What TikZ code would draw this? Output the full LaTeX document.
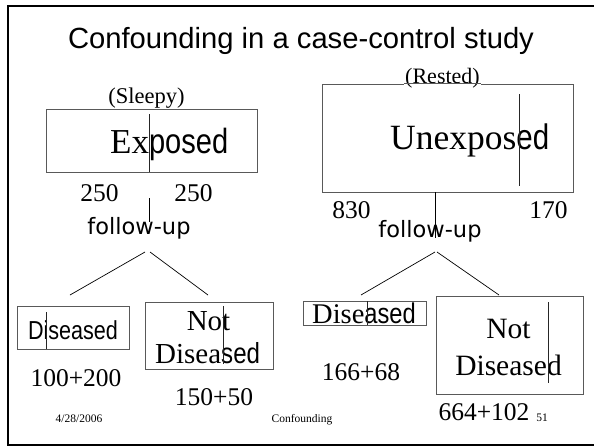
\documentclass[tikz,border=0pt]{standalone}
\usepackage{fontspec}
\setmainfont{Liberation Serif}
\newfontfamily\headfont{Liberation Sans}
\newfontfamily\condfont{Liberation Sans}[FakeStretch=0.83]
\newfontfamily\labelfont{DejaVu Sans}
\newcommand\sz[1]{\fontsize{#1}{#1}\selectfont}

\begin{document}
\begin{tikzpicture}[x=1pt,y=-1pt,
  box/.style={draw=black!65,line width=0.8pt,inner sep=0pt},
  divider/.style={draw=black!85,line width=0.7pt},
  branch/.style={draw=black,line width=0.7pt},
  frame/.style={draw=black,line width=2.6pt},
  txt/.style={inner sep=0pt,anchor=base},
  txtw/.style={inner sep=0pt,anchor=base west}]
\useasboundingbox (0,0) rectangle (594,447);

% slide frame
\draw[frame] (594,6) -- (8,6) -- (8,445) -- (594,445);

% title
\node[txt] (title) at (301,48) {\headfont\sz{29.2}Confounding in a case-control study};

% exposed group
\node[txt] (sleepy) at (146.5,103) {\sz{22.5}(Sleepy)};
\node[box,minimum width=211pt,minimum height=63pt] (expbox) at (151.5,140.5) {};
\node[txtw] (exptxt) at (110,153) {\sz{35}Ex{\condfont posed}};
\draw[divider] (149,114) -- (149,172);
\node[txt] (nA) at (99.5,201) {\sz{25.5}250};
\node[txt] (nB) at (193.5,201) {\sz{25.5}250};
\coordinate (stemLtop) at (149,198);
\coordinate (stemLbot) at (149,222);
\draw[branch] (stemLtop) -- (stemLbot);
\node[txt] (fuL) at (139,234) {\labelfont\sz{22.5}follow-up};
\coordinate (fuLa) at (145,252);
\coordinate (fuLb) at (150,252);
\coordinate (endLa) at (70,295);
\coordinate (endLb) at (208,295);
\draw[branch] (fuLa) -- (endLa);
\draw[branch] (fuLb) -- (endLb);

% exposed outcomes
\node[box,minimum width=112pt,minimum height=43pt] (dl) at (73,327.5) {};
\node[txt] (dltxt) at (73,339) {\condfont\sz{26}Diseased};
\draw[divider] (46,312) -- (46,349);
\node[box,minimum width=128pt,minimum height=67pt] (ndl) at (209,335.5) {};
\node[txt] (ndlA) at (208.5,330) {\sz{29}Not};
\node[txtw] (ndlB) at (155,363) {\sz{29}Disea{\condfont sed}};
\draw[divider] (223,306) -- (223,364);
\node[txt] (cntA) at (76,386) {\sz{25.5}100+200};
\node[txt] (cntB) at (214,405) {\sz{25.5}150+50};

% unexposed group
\node[box,minimum width=251pt,minimum height=108pt] (unexbox) at (447.5,138) {};
\node[txt,fill=white,inner xsep=1pt] (rested) at (442.5,83) {\sz{22}(Rested)};
\draw[box] (rested.west |- unexbox.north) -- (rested.east |- unexbox.north);
\node[txtw] (unextxt) at (390,149) {\sz{35.5}Unexpos{\condfont ed}};
\draw[divider] (519,94) -- (519,186);
\node[txt] (nC) at (351.5,218) {\sz{25.5}830};
\node[txt] (nD) at (548.5,218) {\sz{25.5}170};
\coordinate (stemRbot) at (435,238);
\draw[branch] (unexbox.south -| stemRbot) -- (stemRbot);
\node[txt] (fuR) at (430,237) {\labelfont\sz{22.5}follow-up};
\coordinate (fuRa) at (435,252);
\coordinate (fuRb) at (437,252);
\coordinate (endRa) at (361,295);
\coordinate (endRb) at (499,295);
\draw[branch] (fuRa) -- (endRa);
\draw[branch] (fuRb) -- (endRb);

% unexposed outcomes
\node[box,minimum width=123pt,minimum height=24pt] (dr) at (364.5,313) {};
\node[txtw] (drtxt) at (312,323) {\sz{28.5}Dise{\condfont ased}};
\draw[divider] (367,301) -- (367,325);
\node[box,minimum width=147pt,minimum height=98pt] (ndr) at (509.5,345) {};
\node[txt] (ndrA) at (508.5,338) {\sz{29.5}Not};
\node[txt] (ndrB) at (508.5,375) {\sz{29.5}Diseased};
\draw[divider] (548,302) -- (548,383);
\node[txt] (cntC) at (361,380) {\sz{25.5}166+68};
\node[txt] (cntD) at (484,420) {\sz{25.5}664+102};

% footer
\node[txt] (date) at (79,422) {\sz{11.5}4/28/2006};
\node[txt] (foot) at (302,422) {\sz{11.5}Confounding};
\node[txt] (page) at (542,421) {\sz{11.5}51};
\end{tikzpicture}
\end{document}
